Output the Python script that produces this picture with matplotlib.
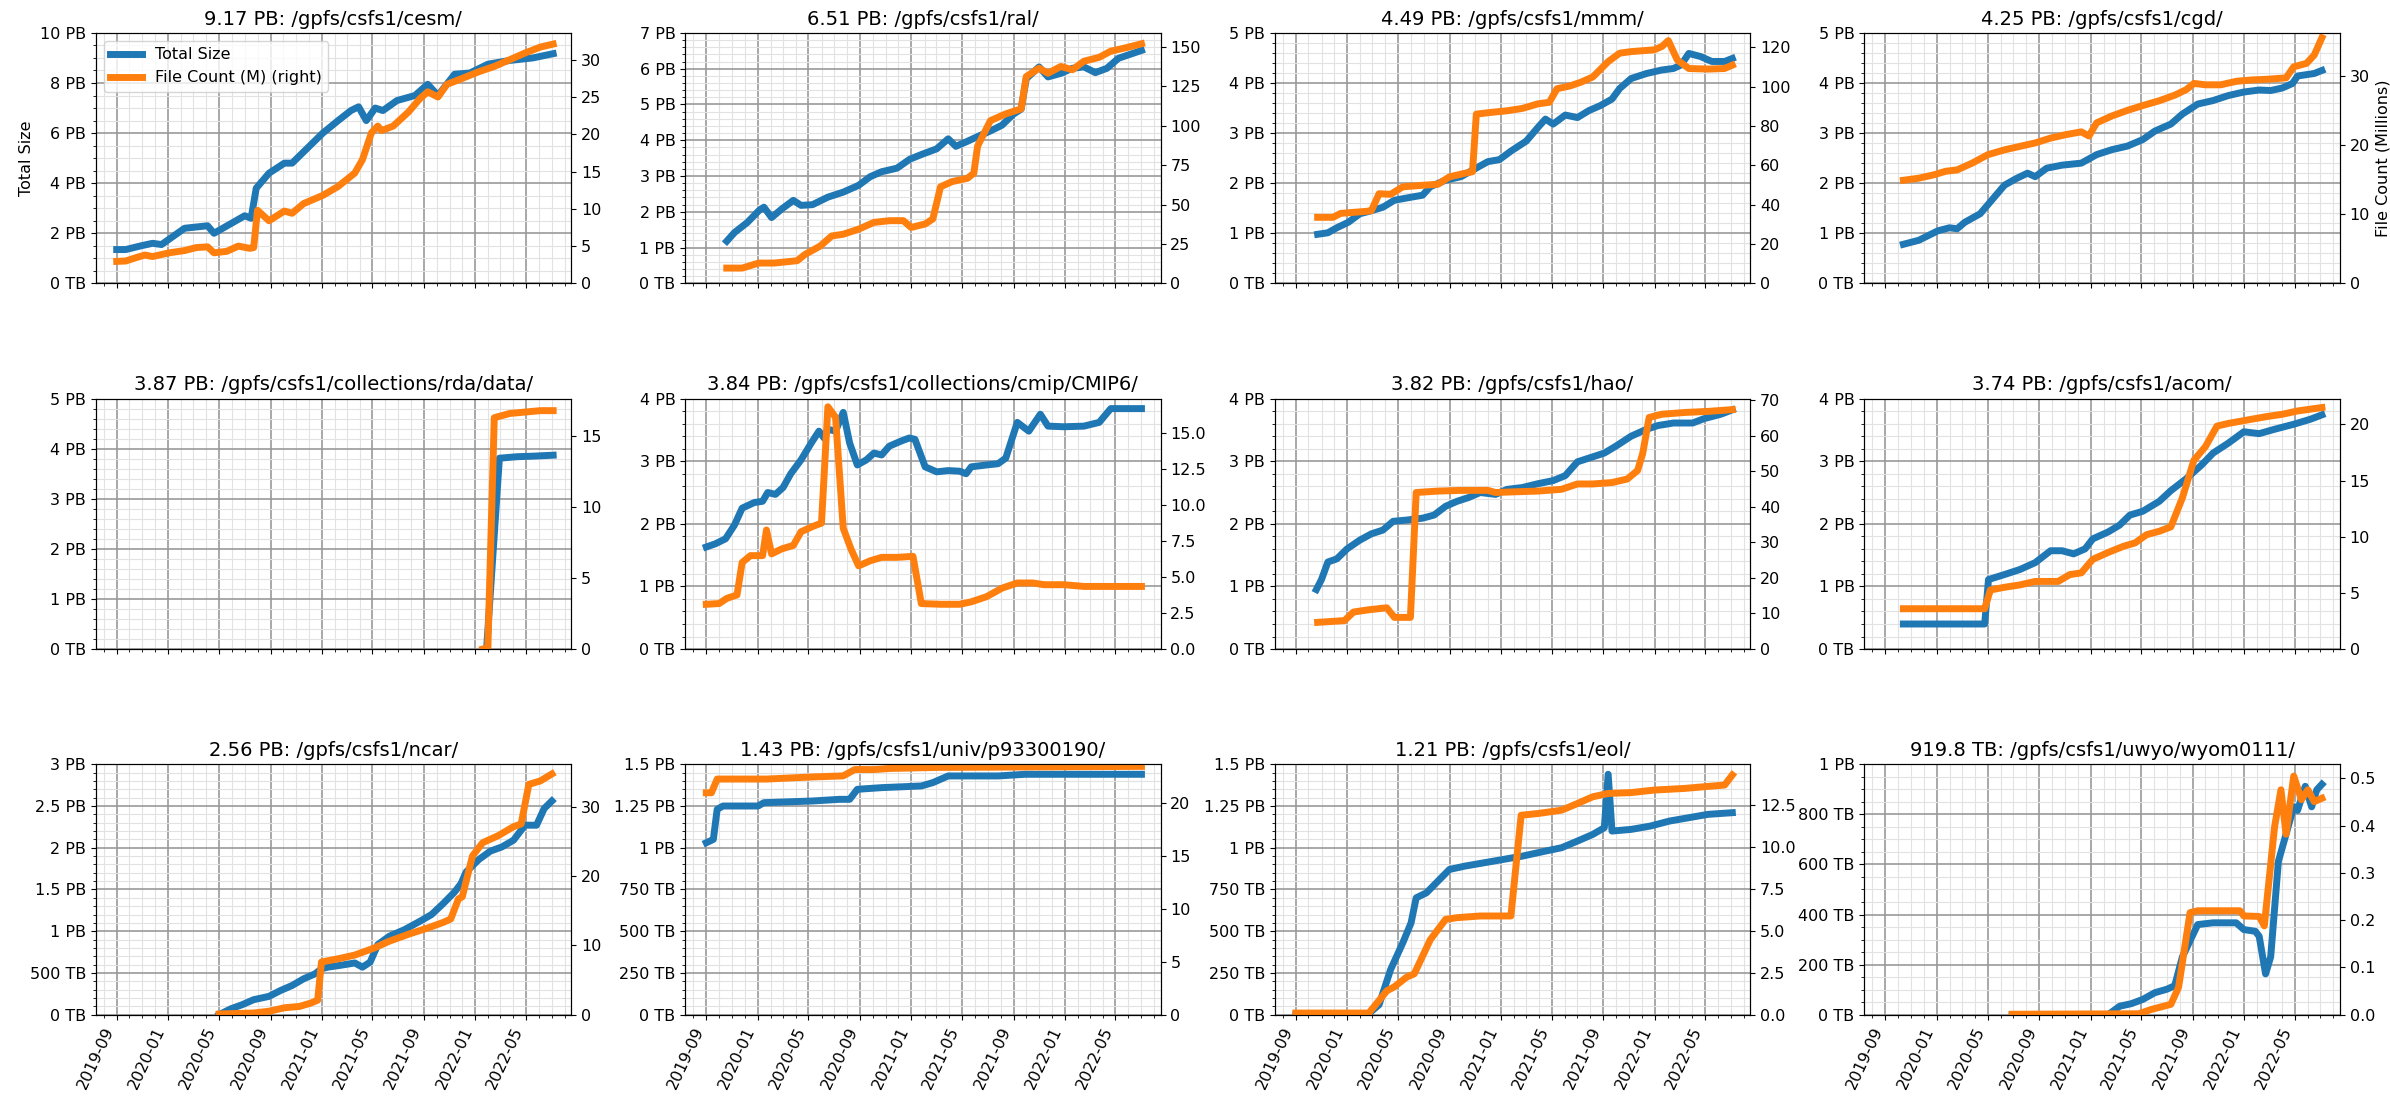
"""
storage_growth.py
Total size and file count per top-level directory of /gpfs/csfs1
"""
import numpy as np
import pandas as pd
import matplotlib
matplotlib.use("Agg")
import matplotlib.pyplot as plt
import matplotlib.dates as mdates
from matplotlib.ticker import MultipleLocator, FuncFormatter, AutoMinorLocator

# time axis: months since 2019-09-01
START = pd.Timestamp("2019-09-01")

titles = [
    "9.17 PB: /gpfs/csfs1/cesm/", "6.51 PB: /gpfs/csfs1/ral/",
    "4.49 PB: /gpfs/csfs1/mmm/", "4.25 PB: /gpfs/csfs1/cgd/",
    "3.87 PB: /gpfs/csfs1/collections/rda/data/", "3.84 PB: /gpfs/csfs1/collections/cmip/CMIP6/",
    "3.82 PB: /gpfs/csfs1/hao/", "3.74 PB: /gpfs/csfs1/acom/",
    "2.56 PB: /gpfs/csfs1/ncar/", "1.43 PB: /gpfs/csfs1/univ/p93300190/",
    "1.21 PB: /gpfs/csfs1/eol/", "919.8 TB: /gpfs/csfs1/uwyo/wyom0111/",
]

# total size (PB) and file count (millions), each with its own month positions
cesm_size_m = [0, 0.7, 1.9, 2.8, 3.5, 5.3, 7.1, 7.6, 10.0, 10.5, 10.9, 11.9, 13.1, 13.7, 14.9, 16.1,
               17.3, 18.3, 18.9, 19.5, 20.2, 20.8, 21.9, 23.3, 24.3, 25.1, 26.4, 27.6, 29.0, 30.7, 32.5, 34.1]
cesm_size = [1.35, 1.35, 1.5, 1.6, 1.55, 2.2, 2.3, 2.0, 2.7, 2.6, 3.8, 4.4, 4.8, 4.8, 5.4, 6.0,
             6.5, 6.9, 7.05, 6.5, 7.0, 6.9, 7.3, 7.5, 7.95, 7.5, 8.35, 8.4, 8.75, 8.9, 9.0, 9.17]
cesm_count_m = [0, 0.7, 1.6, 2.2, 2.8, 4.1, 5.3, 6.2, 7.1, 7.6, 8.6, 9.5, 10.4, 10.7, 11.0, 11.9, 13.1,
                13.7, 14.6, 16.1, 17.3, 18.6, 19.2, 19.9, 20.4, 20.7, 21.6, 22.8, 23.7, 24.3, 25.1, 25.8,
                27.0, 28.3, 29.5, 30.7, 31.9, 33.1, 34.1]
cesm_count = [2.95, 3.0, 3.5, 3.8, 3.6, 4.1, 4.4, 4.8, 4.9, 4.1, 4.3, 5.0, 4.7, 4.8, 9.8, 8.4, 9.7,
              9.4, 10.7, 11.8, 13.0, 14.8, 16.6, 20.2, 21.1, 20.5, 21.1, 23.0, 24.8, 25.7, 25.0, 26.7,
              27.5, 28.4, 29.1, 30.0, 30.9, 31.7, 32.1]

ral_size_m = [1.6, 2.2, 3.2, 4.1, 4.5, 5.1, 5.9, 6.8, 7.4, 8.3, 9.5, 10.7, 11.9, 12.8, 13.7, 14.9,
              15.9, 16.8, 18.0, 18.9, 19.5, 20.4, 21.3, 22.2, 23.1, 24.0, 24.6, 25.0, 26.0, 26.7,
              27.7, 28.6, 29.5, 30.4, 31.3, 32.2, 33.1, 34.0]
ral_size = [1.18, 1.42, 1.7, 2.03, 2.13, 1.84, 2.08, 2.32, 2.18, 2.2, 2.41, 2.55, 2.74, 2.98, 3.12, 3.22,
            3.47, 3.6, 3.76, 4.04, 3.83, 3.97, 4.12, 4.26, 4.42, 4.73, 4.87, 5.72, 6.05, 5.77,
            5.87, 6.01, 6.05, 5.89, 6.01, 6.29, 6.4, 6.51]
ral_count_m = [1.6, 2.8, 4.1, 5.3, 7.1, 7.7, 8.9, 9.8, 10.7, 11.9, 13.1, 14.3, 15.4, 16.0, 17.1, 17.7,
               18.3, 19.2, 20.4, 20.9, 21.2, 22.2, 23.4, 24.6, 25.0, 26.0, 26.7, 27.7, 28.6, 29.5,
               30.7, 31.6, 32.8, 34.0]
ral_count = [9.7, 9.7, 12.9, 12.9, 14.4, 18.3, 23.7, 30.1, 31.2, 34.4, 38.7, 39.8, 39.8, 35.5, 37.7, 40.9,
             61.3, 64.6, 66.7, 69.9, 87.2, 103.3, 107.6, 110.8, 131.3, 136.6, 133.4, 137.7, 135.6, 141.0,
             143.5, 147.4, 149.6, 152.1]

mmm_size_m = [1.7, 2.5, 3.2, 4.1, 5.0, 5.9, 6.8, 7.7, 9.0, 9.9, 10.5, 11.7, 12.9, 13.8, 15.0, 15.9,
              16.8, 18.0, 18.9, 19.5, 20.1, 21.05, 22.0, 22.9, 23.8, 24.7, 25.3, 26.2, 27.4, 28.6,
              29.5, 30.1, 30.7, 31.6, 32.5, 33.5, 34.1]
mmm_size = [0.98, 1.01, 1.11, 1.22, 1.39, 1.45, 1.52, 1.66, 1.72, 1.76, 1.93, 2.06, 2.13, 2.26, 2.43, 2.47,
            2.64, 2.84, 3.11, 3.28, 3.18, 3.36, 3.31, 3.45, 3.55, 3.68, 3.89, 4.09, 4.19, 4.26,
            4.29, 4.36, 4.59, 4.53, 4.43, 4.43, 4.49]
mmm_count_m = [1.7, 2.9, 3.5, 5.6, 5.9, 6.5, 7.4, 8.35, 9.9, 11.1, 12.0, 13.2, 13.8, 14.1, 15.3, 16.5,
               17.7, 18.9, 19.8, 20.4, 21.4, 22.3, 23.2, 24.4, 25.3, 26.2, 28.0, 28.6, 29.1, 29.8,
               30.7, 32.2, 33.5, 34.1]
mmm_count = [33.6, 33.6, 35.6, 36.7, 37.0, 45.6, 45.3, 49.1, 49.9, 50.4, 54.2, 56.0, 56.8, 86.1, 87.0, 87.8,
             89.0, 91.3, 92.1, 99.0, 100.4, 102.4, 105.0, 112.8, 117.1, 117.9, 118.8, 120.5, 123.5, 113.6,
             109.3, 109.0, 109.3, 111.0]

cgd_size_m = [1.4, 2.6, 4.1, 5.0, 5.6, 6.2, 7.4, 8.3, 9.3, 10.2, 11.1, 11.7, 12.6, 13.8, 15.3, 16.5,
              17.7, 18.9, 20.1, 21.05, 22.3, 23.2, 24.4, 25.6, 26.8, 28.0, 29.2, 30.1, 31.0, 31.8,
              32.2, 33.5, 34.1]
cgd_size = [0.78, 0.86, 1.05, 1.11, 1.09, 1.22, 1.39, 1.66, 1.96, 2.09, 2.2, 2.13, 2.3, 2.36, 2.4, 2.57,
            2.67, 2.74, 2.87, 3.04, 3.18, 3.38, 3.58, 3.65, 3.75, 3.82, 3.86, 3.85, 3.9, 3.99,
            4.14, 4.19, 4.25]
cgd_count_m = [1.4, 2.6, 3.8, 4.7, 5.6, 6.8, 8.0, 9.3, 10.5, 11.7, 12.9, 14.1, 15.3, 15.9, 16.5, 17.7,
               18.9, 20.1, 21.4, 22.6, 23.5, 24.1, 25.0, 26.2, 27.4, 28.6, 29.8, 31.3, 31.9, 32.9,
               33.5, 34.1]
cgd_count = [14.9, 15.2, 15.7, 16.2, 16.4, 17.4, 18.6, 19.3, 19.8, 20.3, 21.0, 21.5, 21.9, 21.3, 23.2, 24.2,
             25.0, 25.7, 26.4, 27.2, 28.0, 28.9, 28.7, 28.7, 29.2, 29.4, 29.5, 29.7, 31.3, 31.8,
             33.0, 35.5]

rda_size_m = [28.9, 29.9, 31.3, 32.5, 34.1]
rda_size = [0.0, 3.81, 3.84, 3.85, 3.87]
rda_count_m = [28.6, 29.0, 29.5, 30.7, 31.9, 33.1, 34.1]
rda_count = [0.0, 0.1, 16.3, 16.6, 16.7, 16.8, 16.8]

cmip_size_m = [0, 0.7, 1.5, 2.2, 2.8, 3.75, 4.4, 4.8, 5.4, 6.0, 6.6, 7.4, 8.2, 8.8, 9.2, 9.5, 10.1,
               10.7, 11.2, 11.8, 12.5, 13.1, 13.7, 14.3, 15.2, 15.85, 16.3, 17.1, 18.0, 18.9, 19.8,
               20.3, 20.7, 21.9, 22.8, 23.4, 24.3, 25.2, 26.1, 26.7, 27.95, 29.5, 30.7, 31.6, 32.8, 34.0]
cmip_size = [1.63, 1.68, 1.76, 1.98, 2.25, 2.34, 2.36, 2.5, 2.47, 2.58, 2.8, 3.02, 3.29, 3.48, 3.37, 3.51, 3.48,
             3.78, 3.29, 2.94, 3.02, 3.13, 3.1, 3.24, 3.32, 3.37, 3.35, 2.91, 2.83, 2.85, 2.84,
             2.8, 2.91, 2.94, 2.96, 3.05, 3.62, 3.48, 3.75, 3.56, 3.55, 3.56, 3.62, 3.84, 3.84, 3.84]
cmip_count_m = [0, 1.0, 1.6, 2.4, 2.8, 3.45, 4.4, 4.7, 5.1, 5.9, 6.8, 7.4, 8.3, 9.0, 9.5, 10.1, 10.7,
                11.3, 11.9, 12.8, 13.7, 14.9, 16.15, 16.8, 18.3, 19.8, 20.7, 21.9, 23.1, 24.3, 25.5,
                26.4, 27.95, 29.5, 31.3, 34.0]
cmip_count = [3.11, 3.16, 3.52, 3.76, 6.01, 6.49, 6.49, 8.27, 6.61, 6.96, 7.2, 8.15, 8.51, 8.75, 16.83, 16.1, 8.39,
              6.96, 5.78, 6.13, 6.37, 6.37, 6.44, 3.16, 3.11, 3.11, 3.28, 3.64, 4.23, 4.59, 4.59,
              4.47, 4.47, 4.35, 4.35, 4.35]

hao_size_m = [1.6, 2.0, 2.5, 3.2, 4.0, 5.0, 5.9, 6.8, 7.6, 8.65, 9.9, 10.8, 11.7, 12.6, 13.5, 14.4,
              15.6, 16.5, 17.7, 18.9, 20.1, 21.05, 22.0, 22.9, 24.1, 25.0, 26.2, 27.4, 28.3, 29.5,
              31.0, 31.9, 33.2, 34.1]
hao_size = [0.95, 1.11, 1.39, 1.44, 1.6, 1.74, 1.84, 1.9, 2.04, 2.06, 2.09, 2.14, 2.28, 2.36, 2.42, 2.5,
            2.47, 2.55, 2.58, 2.64, 2.69, 2.77, 2.99, 3.05, 3.13, 3.24, 3.4, 3.51, 3.57, 3.61,
            3.61, 3.68, 3.75, 3.82]
hao_count_m = [1.7, 3.8, 4.5, 5.6, 7.1, 7.7, 8.95, 9.4, 11.1, 12.9, 15.0, 15.6, 17.1, 18.9, 20.75, 22.0,
               23.2, 24.7, 25.9, 26.7, 27.1, 27.6, 28.6, 30.4, 32.2, 34.1]
hao_count = [7.5, 8.0, 10.4, 11.0, 11.6, 8.9, 8.9, 44.0, 44.4, 44.6, 44.6, 44.0, 44.2, 44.4, 44.9, 46.4,
             46.4, 46.8, 47.8, 50.2, 55.0, 65.1, 66.0, 66.5, 66.8, 67.3]

acom_size_m = [1.4, 7.75, 8.05, 9.3, 10.5, 11.7, 12.9, 13.8, 14.7, 15.6, 16.2, 17.4, 18.3, 19.1, 20.1,
               21.4, 22.3, 23.5, 24.7, 25.6, 26.8, 28.0, 29.2, 30.4, 31.9, 33.2, 34.1]
acom_size = [0.4, 0.4, 1.11, 1.19, 1.27, 1.38, 1.57, 1.57, 1.52, 1.6, 1.76, 1.87, 1.98, 2.14, 2.2,
             2.36, 2.53, 2.72, 2.94, 3.13, 3.29, 3.47, 3.44, 3.51, 3.59, 3.67, 3.74]
acom_count_m = [1.4, 7.75, 8.2, 9.3, 10.5, 11.7, 13.5, 14.4, 15.3, 16.2, 17.4, 18.6, 19.5, 20.4, 21.4,
                22.3, 23.2, 24.1, 25.0, 25.9, 26.8, 28.3, 29.8, 31.0, 32.2, 34.1]
acom_count = [3.59, 3.59, 5.26, 5.5, 5.71, 6.02, 6.02, 6.63, 6.78, 7.99, 8.6, 9.15, 9.45, 10.18, 10.49,
              10.88, 13.47, 16.81, 18.02, 19.85, 20.09, 20.4, 20.7, 20.9, 21.2, 21.5]

ncar_size_m = [8.0, 8.9, 9.8, 10.7, 11.9, 12.8, 13.7, 14.6, 15.5, 16.0, 16.5, 17.4, 18.6, 19.2, 19.8,
               20.4, 21.3, 22.5, 23.7, 24.6, 25.5, 26.4, 26.9, 27.3, 28.3, 29.2, 30.1, 31.0, 31.9,
               32.8, 33.4, 34.0]
ncar_size = [0.0, 0.07, 0.12, 0.18, 0.22, 0.29, 0.35, 0.43, 0.49, 0.55, 0.57, 0.59, 0.62, 0.57, 0.63,
             0.84, 0.94, 1.02, 1.12, 1.2, 1.33, 1.47, 1.57, 1.71, 1.86, 1.96, 2.01, 2.09, 2.27,
             2.27, 2.47, 2.56]
ncar_count_m = [8.0, 10.7, 11.9, 13.1, 14.3, 15.2, 15.7, 16.0, 17.4, 18.6, 20.1, 21.3, 22.8, 24.3, 25.5,
                26.1, 26.7, 27.0, 27.8, 28.6, 29.8, 31.0, 31.6, 32.2, 33.1, 34.0]
ncar_count = [0.1, 0.25, 0.5, 1.0, 1.2, 1.7, 2.1, 7.6, 8.1, 8.6, 9.6, 10.6, 11.6, 12.5, 13.3,
              13.8, 16.7, 17.0, 22.9, 24.8, 25.8, 27.1, 27.5, 33.2, 33.7, 34.7]

univ_size_m = [0, 0.55, 0.85, 1.3, 4.05, 4.5, 8.3, 10.4, 11.2, 11.8, 13.7, 16.8, 17.7, 18.9, 22.8, 24.9, 34.0]
univ_size = [1.03, 1.05, 1.23, 1.25, 1.25, 1.27, 1.28, 1.29, 1.29, 1.35, 1.36, 1.37, 1.39, 1.43, 1.43, 1.44, 1.44]
univ_count_m = [0, 0.4, 0.85, 4.7, 8.3, 10.7, 11.6, 13.1, 14.3, 18.0, 34.0]
univ_count = [21.0, 21.0, 22.3, 22.3, 22.5, 22.6, 23.2, 23.2, 23.3, 23.4, 23.5]

eol_size_m = [0, 5.6, 6.5, 7.4, 8.35, 9.0, 9.4, 10.2, 11.1, 12.0, 13.2, 14.7, 16.2, 17.7, 19.5, 20.75,
              22.0, 23.2, 24.1, 24.4, 24.7, 26.2, 27.7, 29.2, 30.7, 32.2, 34.1]
eol_size = [0.0, 0.0, 0.06, 0.27, 0.43, 0.55, 0.7, 0.73, 0.8, 0.87, 0.89, 0.91, 0.93, 0.95, 0.98, 1.0,
            1.04, 1.08, 1.12, 1.44, 1.1, 1.11, 1.13, 1.16, 1.18, 1.2, 1.21]
eol_count_m = [0, 5.7, 7.1, 7.7, 8.65, 9.25, 10.5, 11.7, 12.6, 14.4, 16.8, 17.6, 18.9, 20.75, 21.7, 23.2,
               24.4, 26.2, 28.0, 30.4, 31.9, 33.5, 34.1]
eol_count = [0.1, 0.1, 1.42, 1.67, 2.24, 2.44, 4.47, 5.69, 5.79, 5.89, 5.89, 11.9, 12.0, 12.2, 12.5, 13.0,
             13.2, 13.25, 13.4, 13.5, 13.6, 13.7, 14.3]

uwyo_size_m = [9.9, 17.4, 18.3, 19.2, 20.1, 21.05, 22.0, 22.6, 23.2, 24.4, 25.6, 27.4, 28.0, 28.9, 29.2,
               29.7, 30.1, 30.7, 31.3, 31.9, 32.2, 32.8, 33.3, 33.7, 34.1]
uwyo_size = [0.0, 0.0, 0.034, 0.044, 0.061, 0.088, 0.102, 0.116, 0.231, 0.36, 0.367, 0.367, 0.34, 0.333, 0.313,
             0.163, 0.231, 0.612, 0.721, 0.83, 0.816, 0.912, 0.83, 0.898, 0.92]
uwyo_count_m = [9.9, 19.8, 20.75, 22.3, 22.9, 23.8, 24.4, 27.7, 28.0, 29.2, 29.6, 30.4, 30.9, 31.3, 31.9,
                32.5, 33.0, 33.5, 34.1]
uwyo_count = [0.001, 0.002, 0.011, 0.022, 0.058, 0.216, 0.22, 0.22, 0.209, 0.208, 0.188, 0.397, 0.476, 0.382, 0.505,
              0.455, 0.476, 0.451, 0.458]

size_series = [(cesm_size_m, cesm_size), (ral_size_m, ral_size), (mmm_size_m, mmm_size), (cgd_size_m, cgd_size),
               (rda_size_m, rda_size), (cmip_size_m, cmip_size), (hao_size_m, hao_size), (acom_size_m, acom_size),
               (ncar_size_m, ncar_size), (univ_size_m, univ_size), (eol_size_m, eol_size), (uwyo_size_m, uwyo_size)]
count_series = [(cesm_count_m, cesm_count), (ral_count_m, ral_count), (mmm_count_m, mmm_count),
                (cgd_count_m, cgd_count), (rda_count_m, rda_count), (cmip_count_m, cmip_count),
                (hao_count_m, hao_count), (acom_count_m, acom_count), (ncar_count_m, ncar_count),
                (univ_count_m, univ_count), (eol_count_m, eol_count), (uwyo_count_m, uwyo_count)]

# axis limits (PB on the left, millions on the right)
size_top = [10, 7, 5, 5, 5, 4, 4, 4, 3, 1.5, 1.5, 1.0]
size_step = [2, 1, 1, 1, 1, 1, 1, 1, 0.5, 0.25, 0.25, 0.2]
count_top = [33.6, 159, 127.4, 36.2, 17.65, 17.4, 70.4, 22.3, 36.1, 23.7, 14.94, 0.53]
count_step = [5, 25, 20, 10, 5, 2.5, 10, 5, 10, 5, 2.5, 0.1]

BLUE = "#1f77b4"
ORANGE = "#ff7f0e"


def to_dates(months):
    return START + pd.to_timedelta(np.asarray(months, dtype=float) * 30.437, unit="D")


def fmt_size(v, pos):
    # v is in TB
    if v >= 1000:
        return f"{v / 1000:g} PB"
    return f"{v:g} TB"


plt.rcParams["font.size"] = 11.5
plt.rcParams["axes.titlesize"] = 14

fig, axes = plt.subplots(3, 4, figsize=(23.9, 10.97), dpi=100, sharex=True)
fig.subplots_adjust(left=0.04, right=0.979, top=0.970, bottom=0.075, wspace=0.24, hspace=0.46)

xlim = (to_dates([-1.65])[0], to_dates([35.5])[0])

for i, ax in enumerate(axes.flat):
    sm, sv = size_series[i]
    cm, cv = count_series[i]
    l1, = ax.plot(to_dates(sm), np.array(sv) * 1000, color=BLUE, lw=5, label="Total Size")
    ax2 = ax.twinx()
    l2, = ax2.plot(to_dates(cm), cv, color=ORANGE, lw=5, label="File Count (M) (right)")

    ax.set_xlim(xlim)
    ax.set_ylim(0, size_top[i] * 1000)
    ax.yaxis.set_major_locator(MultipleLocator(size_step[i] * 1000))
    ax.yaxis.set_minor_locator(AutoMinorLocator())
    ax.yaxis.set_major_formatter(FuncFormatter(fmt_size))
    ax2.set_ylim(0, count_top[i])
    ax2.yaxis.set_major_locator(MultipleLocator(count_step[i]))

    ax.xaxis.set_major_locator(mdates.MonthLocator(bymonth=[1, 5, 9]))
    ax.xaxis.set_minor_locator(mdates.MonthLocator())
    ax.xaxis.set_major_formatter(mdates.DateFormatter("%Y-%m"))

    ax.grid(which="major", color="#999999", lw=1.2)
    ax.grid(which="minor", color="#e2e2e2", lw=0.8)
    ax.set_axisbelow(True)
    ax.set_title(titles[i])

    if i == 0:
        ax.set_ylabel("Total Size")
        ax.legend([l1, l2], [l1.get_label(), l2.get_label()], loc="upper left")
    if i == 3:
        ax2.set_ylabel("File Count (Millions)")

for ax in axes[-1]:
    for lab in ax.get_xticklabels():
        lab.set_rotation(65)
        lab.set_ha("right")

fig.savefig("out.png", dpi=100)
